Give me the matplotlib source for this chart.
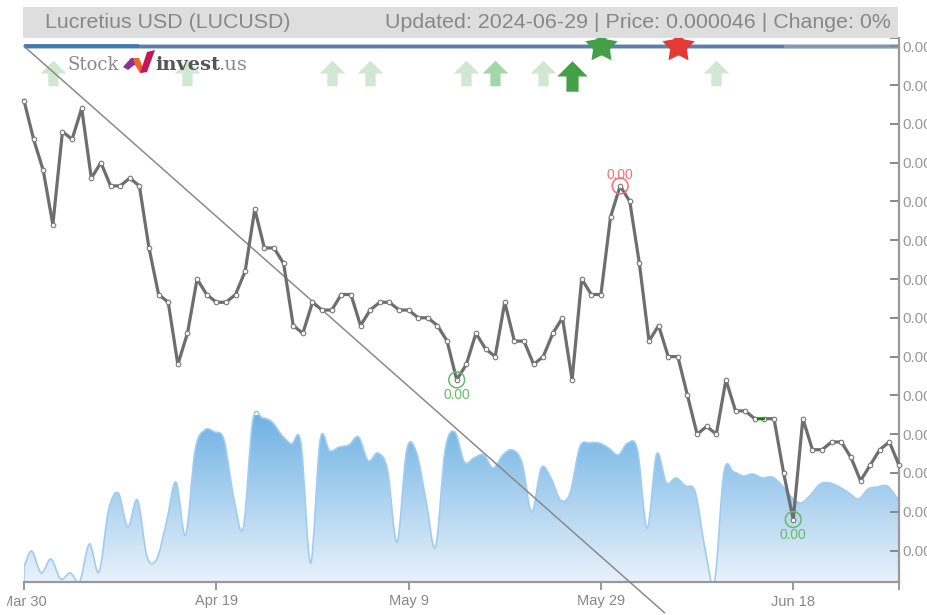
import numpy as np
import matplotlib
matplotlib.use("Agg")
import matplotlib.pyplot as plt
from matplotlib.path import Path
from matplotlib.patches import PathPatch, Rectangle, Polygon
from matplotlib.colors import LinearSegmentedColormap
from matplotlib.transforms import Bbox, ScaledTranslation

plt.rcParams['font.family'] = ['Liberation Sans', 'DejaVu Sans']

W, H = 928, 615

# closing price, in millionths of a dollar, one per day from Mar 30
price = [93, 88, 84, 77, 89, 88, 92, 83, 85, 82, 82, 83, 82, 74, 68, 67, 59, 63, 70, 68,
         67, 67, 68, 71, 79, 74, 74, 72, 64, 63, 67, 66, 66, 68, 68, 64, 66, 67, 67, 66,
         66, 65, 65, 64, 62, 57, 59, 63, 61, 60, 67, 62, 62, 59, 60, 63, 65, 57, 70, 68,
         68, 78, 82, 80, 72, 62, 64, 60, 60, 55, 50, 51, 50, 57, 53, 53, 52, 52, 52, 45,
         39, 52, 48, 48, 49, 49, 47, 44, 46, 48, 49, 46]
# volume, arbitrary units
volume = [15, 31, 9, 23, 3, 9, 1, 38, 10, 72, 89, 55, 82, 25, 23, 59, 100, 47, 132, 152,
          150, 142, 85, 54, 162, 164, 160, 147, 138, 139, 19, 142, 131, 135, 137, 145, 121, 129, 112, 40,
          132, 130, 82, 35, 132, 150, 120, 124, 127, 114, 127, 132, 119, 70, 114, 104, 82, 89, 135, 139,
          139, 134, 127, 139, 132, 54, 128, 99, 104, 96, 90, 35, 0, 110, 110, 106, 108, 104, 105, 97,
          85, 79, 87, 98, 99, 95, 89, 83, 93, 95, 96, 84]
vol_shift = -0.2

xtick_days = [0, 20, 40, 60, 80, 91]
xtick_labels = ['Mar 30', 'Apr 19', 'May 9', 'May 29', 'Jun 18', '']
ytick_vals = [35, 40, 45, 50, 55, 60, 65, 70, 75, 80, 85, 90, 95, 100]

# signals: day of the arrow
weak_up = [3, 17, 32, 36, 46, 54, 72]
mid_up = [49]
strong_up = [57]
star_buy = 60
star_sell = 68
high_day, low_days = 62, [45, 80]
trend_days = [0, 66.6]
trend_vals = [100, 27]

fig = plt.figure(figsize=(W / 100, H / 100), dpi=100)


def px_axes(left, top, right, bottom):
    return [left / W, 1 - bottom / H, (right - left) / W, (bottom - top) / H]


days = np.arange(len(price))
p = np.array(price) * 1e-6

vx = fig.add_axes(px_axes(24, 38, 899, 582))
vx.axis('off')

# volume outline as a smooth bezier through the daily values
vd = np.clip(days + vol_shift, 0, 91)
vv = np.array(volume, dtype=float)
verts = [(vd[0], 0), (vd[0], vv[0])]
codes = [Path.MOVETO, Path.LINETO]
for i in range(len(vd) - 1):
    x0, y0 = (vd[i - 1], vv[i - 1]) if i > 0 else (vd[i], vv[i])
    x1, y1 = vd[i], vv[i]
    x2, y2 = vd[i + 1], vv[i + 1]
    x3, y3 = (vd[i + 2], vv[i + 2]) if i + 2 < len(vd) else (x2, y2)
    verts += [(x1 + (x2 - x0) / 6, y1 + (y2 - y0) / 6),
              (x2 - (x3 - x1) / 6, y2 - (y3 - y1) / 6), (x2, y2)]
    codes += [Path.CURVE4] * 3
verts += [(91, vv[-1]), (91, 0), (vd[0], 0)]
codes += [Path.LINETO, Path.LINETO, Path.LINETO]
area = PathPatch(Path(verts, codes), fc='none', ec='#9fcdf0', lw=1.2, zorder=3)
vx.add_patch(area)
cmap = LinearSegmentedColormap.from_list('vol', ['#6fb2e4', '#e9f2fb'])
grad = vx.imshow(np.linspace(0, 1, 256).reshape(-1, 1), cmap=cmap, aspect='auto',
                 extent=[0, 91, 0, 167], origin='upper', zorder=2)
grad.set_clip_path(area)
vx.set_xlim(0, 91)
vx.set_ylim(0, 544)

ax = fig.add_axes(px_axes(24, 38, 899, 582))
ax.patch.set_alpha(0)
ax.set_xlim(0, 91)
ax.set_ylim(30.95e-6, 101.06e-6)

ax.plot(days, p, color='#6e6e6e', lw=2.3, marker='o', ms=3.3, mfc='white', mec='#777777',
        mew=0.8, zorder=5, clip_on=False)
ax.plot(trend_days, np.array(trend_vals) * 1e-6, color='#8a8a8a', lw=1.1, clip_on=False, zorder=4)

# band along the top of the plot
ax.plot([0, 91], [100e-6, 100e-6], color='#a8bdd4', lw=3.4, solid_capstyle='butt', zorder=1)
ax.plot([0, 79], [100e-6, 100e-6], color='#5a80a6', lw=2.2, solid_capstyle='butt', zorder=1)
ax.plot([79, 91], [100e-6, 100e-6], color='#7d94a8', lw=1.8, solid_capstyle='butt', zorder=1)
ax.plot([0, 12], [100e-6, 100e-6], color='#3f78b5', lw=2.6, solid_capstyle='butt', zorder=1)

arrow = Path([(-0.5, 0), (0, 0.5), (0.5, 0), (0.2, 0), (0.2, -0.5), (-0.2, -0.5), (-0.2, 0), (-0.5, 0)],
             closed=True)
ax.scatter(weak_up, [96.5e-6] * len(weak_up), marker=arrow, s=340, color='#d0e8d1', lw=0, zorder=3)
ax.scatter(mid_up, [96.5e-6] * len(mid_up), marker=arrow, s=340, color='#a5d6a7', lw=0, zorder=3)
ax.scatter(strong_up, [96.2e-6] * len(strong_up), marker=arrow, s=480, color='#43a047', lw=0, zorder=3)

# fat five point star, the top arm goes under the header bar
ang = np.pi / 2 + np.arange(10) * np.pi / 5
rad = np.where(np.arange(10) % 2 == 0, 1.0, 0.52)
star = Path(np.column_stack([rad * np.cos(ang), rad * np.sin(ang)]).tolist() + [[0, 1]], closed=True)
ax.scatter([star_buy], [100.05e-6], marker=star, s=600, color='#43a047', lw=0, zorder=6, clip_on=False)
ax.scatter([star_sell], [100.05e-6], marker=star, s=600, color='#e53935', lw=0, zorder=6, clip_on=False)

# extreme markers
ax.scatter([high_day], [price[high_day] * 1e-6], s=130, facecolors='none', edgecolors='#f07070', lw=1.1, zorder=6)
ax.text(high_day, price[high_day] * 1e-6, '0.00', color='#f07070', fontsize=9.9, ha='center', va='bottom',
        transform=ax.transData + ScaledTranslation(0, 0.04, fig.dpi_scale_trans))
for d in low_days:
    ax.scatter([d], [price[d] * 1e-6], s=130, facecolors='none', edgecolors='#66bb6a', lw=1.1, zorder=6)
    ax.text(d, price[d] * 1e-6, '0.00', color='#66bb6a', fontsize=9.9, ha='center', va='top',
            transform=ax.transData + ScaledTranslation(0, -0.085, fig.dpi_scale_trans))
ax.plot([76.3, 77], [52e-6, 52e-6], color='#0a8a0a', lw=1.6, zorder=6)

for s in ['top', 'left']:
    ax.spines[s].set_visible(False)
ax.spines['right'].set_color('#999999')
ax.spines['right'].set_linewidth(1.6)
ax.spines['bottom'].set_color('#999999')
ax.spines['bottom'].set_linewidth(1.6)
ax.yaxis.tick_right()
ax.set_yticks(np.array(ytick_vals) * 1e-6)
ax.set_yticklabels(['%.2f' % (v * 1e-6) for v in ytick_vals])
ax.set_yticks([101.06e-6], minor=True)
ax.tick_params(axis='y', which='both', direction='in', length=6.5, width=1.4, color='#888888',
               labelcolor='#999999', labelsize=11, pad=2.5)
ax.set_xticks(xtick_days)
ax.set_xticklabels(xtick_labels)
ax.tick_params(axis='x', direction='out', length=6, width=1.2, color='#888888', labelcolor='#888888',
               labelsize=10.5, pad=3)
for lab in ax.get_xticklabels():
    lab.set_clip_box(Bbox([[7, 0], [W, H]]))
    lab.set_clip_on(True)

# header bar
fig.patches.append(Rectangle((23 / W, 1 - 37.5 / H), 875 / W, 30.5 / H, transform=fig.transFigure,
                             fc='#dedede', ec='none', zorder=10))
fig.text(45 / W, 1 - 23 / H, 'Lucretius USD (LUCUSD)', color='#888888', fontsize=15.4, va='center', zorder=11)
fig.text(891 / W, 1 - 23 / H, 'Updated: 2024-06-29 | Price: 0.000046 | Change: 0%', color='#888888',
         fontsize=15.4, va='center', ha='right', zorder=11)

# logo
fig.text(68 / W, 1 - 65 / H, 'Stock', color='#8a8a8a', fontsize=13, family='DejaVu Serif', va='center', zorder=12)
fig.text(155 / W, 1 - 65 / H, 'invest', color='#555555', fontsize=14, family='DejaVu Serif', weight='bold',
         va='center', zorder=12)
fig.text(218.5 / W, 1 - 65 / H, '.us', color='#8a8a8a', fontsize=14, family='DejaVu Serif', va='center', zorder=12)
logo_parts = [('#8e2f9a', [(123, 67), (131, 58), (139, 58), (139, 63), (133, 66), (128, 70)]),
              ('#f0642a', [(133, 58), (139, 58), (145, 72), (140, 73), (135, 65)]),
              ('#c2185b', [(140, 73), (147, 72), (155, 50), (147, 52)])]
for col, pts in logo_parts:
    fig.patches.append(Polygon([(x / W, 1 - y / H) for x, y in pts], transform=fig.transFigure,
                               fc=col, ec='none', zorder=12))

fig.savefig('out.png', dpi=100)
